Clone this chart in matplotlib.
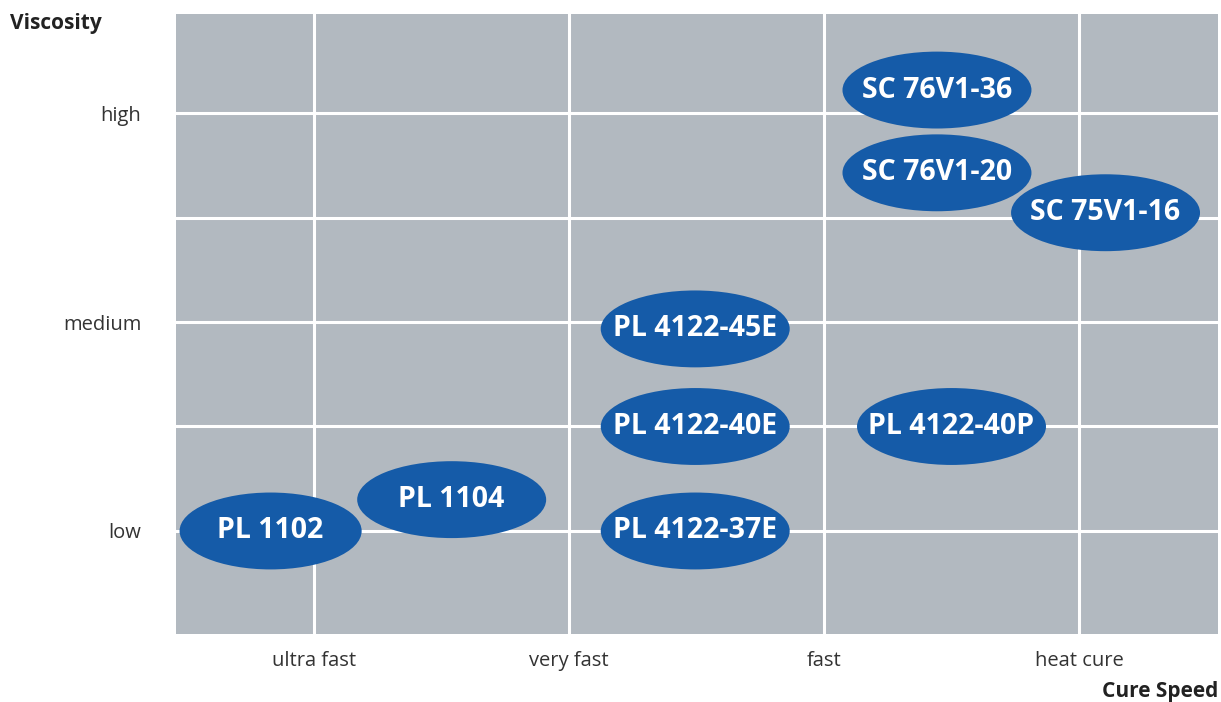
import matplotlib.pyplot as plt
from matplotlib.patches import Ellipse

speed_labels = ['ultra fast', 'very fast', 'fast', 'heat cure']
visc_labels = ['low', 'medium', 'high']

products = ['PL 1102', 'PL 1104', 'PL 4122-37E', 'PL 4122-40E', 'PL 4122-45E',
            'PL 4122-40P', 'SC 76V1-36', 'SC 76V1-20', 'SC 75V1-16']
cure_speed = [-0.17, 0.54, 1.495, 1.495, 1.495, 2.50, 2.443, 2.443, 3.104]
viscosity = [0.0, 0.15, 0.0, 0.5, 0.967, 0.5, 2.11, 1.714, 1.523]
widths = [0.714, 0.741, 0.741, 0.741, 0.741, 0.741, 0.741, 0.741, 0.741]

plt.rcParams['font.family'] = ['Open Sans', 'DejaVu Sans']

fig = plt.figure(figsize=(12.21, 7.02), dpi=100)
ax = fig.add_axes([176 / 1221, 68 / 702, 1042 / 1221, 620 / 702])
ax.set_facecolor('#b2b9c0')
ax.set_xlim(-0.541, 3.545)
ax.set_ylim(-0.493, 2.474)

ax.set_xticks(range(len(speed_labels)))
ax.set_xticklabels(speed_labels)
ax.set_yticks(range(len(visc_labels)))
ax.set_yticklabels(visc_labels)
ax.set_yticks([0.5, 1.5], minor=True)
ax.tick_params(axis='both', which='both', length=0, labelsize=14.5, labelcolor='#333333')
ax.tick_params(axis='x', pad=12)
ax.tick_params(axis='y', pad=25)
ax.grid(True, which='both', color='white', linewidth=2.2)
ax.set_axisbelow(True)
for s in ax.spines.values():
    s.set_visible(False)

for name, x, y, w in zip(products, cure_speed, viscosity, widths):
    ax.add_patch(Ellipse((x, y), w, 0.368, facecolor='#155ba8', edgecolor='none', zorder=3))
    ax.text(x, y, name, ha='center', va='center', color='white', fontsize=20.5,
            fontweight='bold', zorder=4)

fig.text(10 / 1221, 1 - 23 / 702, 'Viscosity', ha='left', va='center', fontsize=15,
         fontweight='bold', color='#222222')
fig.text(1218 / 1221, 1 - 691 / 702, 'Cure Speed', ha='right', va='center', fontsize=15,
         fontweight='bold', color='#222222')

fig.savefig('out.png', dpi=100)
